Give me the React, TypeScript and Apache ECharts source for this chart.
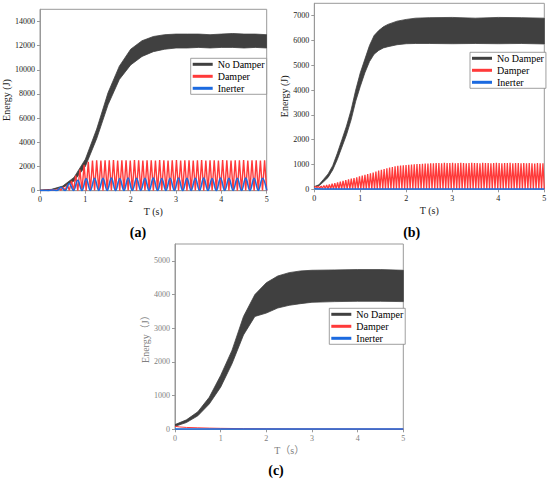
import React, { useEffect, useRef } from "react";
import * as echarts from "echarts";

// ---------- (a) ----------
const A_TIMES = [0, 0.25, 0.5, 0.75, 1.0, 1.25, 1.5, 1.75, 2.0, 2.25, 2.5, 2.75, 3.0, 3.25, 3.5, 3.75, 4.0, 4.25, 4.5, 4.75, 5.0];
const A_NODAMP_UPPER = [50, 110, 380, 1100, 2600, 5100, 8100, 10300, 11700, 12400, 12750, 12900, 12950, 12950, 12950, 12900, 12950, 13000, 12950, 12950, 12900];
const A_NODAMP_LOWER = [20, 70, 250, 800, 2000, 4300, 7100, 9200, 10400, 11100, 11500, 11700, 11800, 11800, 11850, 11800, 11850, 11850, 11800, 11850, 11800];

const A_DAMP_PERIOD = 5 / 54;
const A_DAMP_PEAKS = [
  30, 40, 55, 90, 170, 300, 500, 800, 1250, 1750, 2150, 2400, 2490, 2510,
  2500, 2520, 2510, 2530, 2500, 2510, 2520, 2500, 2530, 2510,
  2490, 2520, 2510, 2500, 2530, 2520, 2500, 2510, 2530, 2500,
  2520, 2510, 2490, 2520, 2530, 2500, 2510, 2520, 2500, 2530,
  2510, 2500, 2520, 2510, 2530, 2500, 2520, 2510, 2500, 2520,
];
const A_DAMP_TROUGHS = [
  20, 25, 30, 35, 40, 40, 30, 20, 15, 10,
  10, 8, 10, 12, 10, 8, 10, 12, 10, 8,
  10, 12, 10, 8, 10, 12, 10, 8, 10, 12,
  10, 8, 10, 12, 10, 8, 10, 12, 10, 8,
  10, 12, 10, 8, 10, 12, 10, 8, 10, 12,
  10, 8, 10, 12, 10,
];

const A_INERT_PERIOD = 5 / 27;
const A_INERT_PEAKS = [
  20, 60, 280, 600, 870, 1000, 1030,
  1020, 1040, 1010, 1050, 1030, 1020, 1040, 1010, 1030, 1050,
  1020, 1030, 1040, 1010, 1050, 1020, 1030, 1040, 1020, 1030,
];
const A_INERT_TROUGHS = [
  15, 10, 15, 20, 15, 10, 15, 20, 15, 10, 15, 20, 15, 10,
  15, 20, 15, 10, 15, 20, 15, 10, 15, 20, 15, 10, 15, 20,
];

// ---------- (b) ----------
const B_TIMES = [0, 0.1, 0.2, 0.3, 0.4, 0.5, 0.6, 0.7, 0.8, 0.9, 1.0, 1.1, 1.2, 1.3, 1.4, 1.5, 1.6, 1.8, 2.0, 2.2, 2.5, 3.0, 3.5, 4.0, 4.5, 5.0];
const B_NODAMP_UPPER = [110, 180, 400, 620, 950, 1450, 2000, 2550, 3200, 4000, 4700, 5250, 5800, 6200, 6400, 6550, 6650, 6780, 6850, 6900, 6920, 6930, 6900, 6930, 6920, 6900];
const B_NODAMP_LOWER = [90, 140, 300, 480, 780, 1200, 1700, 2200, 2800, 3550, 4150, 4700, 5150, 5450, 5600, 5700, 5750, 5830, 5870, 5880, 5880, 5870, 5880, 5870, 5880, 5860];

const B_DAMP_PERIOD = 5 / 84;
const B_DAMP_PEAKS = [
  105, 115, 130, 150, 170, 195, 225, 250, 280, 310,
  345, 375, 405, 430, 455, 480, 525, 550, 580, 615,
  645, 680, 720, 760, 790, 820, 850, 875, 900, 925,
  945, 960, 970, 980, 990, 1000, 1010, 1015, 1020, 1030,
  1035, 1040, 1045, 1050,
  1055, 1060, 1050, 1065, 1055, 1060, 1070, 1050, 1060, 1065,
  1055, 1050, 1060, 1070, 1055, 1060, 1050, 1065, 1060, 1055,
  1050, 1060, 1065, 1055, 1050, 1060, 1055, 1065, 1050, 1060,
  1055, 1050, 1060, 1045, 1055, 1050, 1040, 1055, 1045, 1050,
];
const B_DAMP_TROUGHS = [
  95, 70, 50, 40, 30, 25, 20,
  15, 12, 15, 18, 15, 12, 15, 18, 15, 12,
  15, 18, 15, 12, 15, 18, 15, 12, 15, 18,
  15, 12, 15, 18, 15, 12, 15, 18, 15, 12,
  15, 18, 15, 12, 15, 18, 15, 12, 15, 18,
  15, 12, 15, 18, 15, 12, 15, 18, 15, 12,
  15, 18, 15, 12, 15, 18, 15, 12, 15, 18,
  15, 12, 15, 18, 15, 12, 15, 18, 15, 12,
  15, 18, 15, 12, 15, 18, 15, 12,
];
const B_INERT_TIMES = [0, 0.2, 0.5, 1, 2, 3, 4, 5];
const B_INERT_VALUES = [20, 15, 12, 10, 10, 10, 10, 10];

// ---------- (c) ----------
const C_TIMES = [0, 0.25, 0.5, 0.75, 1.0, 1.25, 1.5, 1.75, 2.0, 2.25, 2.5, 2.75, 3.0, 3.5, 4.0, 4.5, 5.0];
const C_NODAMP_UPPER = [140, 280, 520, 950, 1600, 2350, 3350, 4000, 4350, 4550, 4650, 4700, 4720, 4730, 4740, 4740, 4720];
const C_NODAMP_LOWER = [90, 200, 400, 750, 1250, 1950, 2800, 3350, 3450, 3600, 3680, 3730, 3770, 3790, 3800, 3800, 3790];
const C_DAMP_TIMES = [0, 0.1, 0.25, 0.5, 0.75, 1, 1.5, 2, 2.5, 3, 4, 5];
const C_DAMP_VALUES = [90, 70, 55, 45, 35, 28, 20, 15, 12, 10, 8, 6];
const C_INERT_TIMES = [0, 1, 2, 3, 4, 5];
const C_INERT_VALUES = [10, 8, 8, 8, 8, 8];

const LEGEND_NAMES = ["No Damper", "Damper", "Inerter"];
const X_TICKS = { min: 0, max: 5, interval: 1 };
const Y_AXES = [
  { max: 15000, interval: 2000 },
  { max: 7500, interval: 1000 },
  { max: 5500, interval: 1000 },
];

const COL_BLACK = "#404040";
const COL_RED = "#ff3a3a";
const COL_BLUE = "#1b6ae0";
const SERIF = "'Liberation Serif', serif";
const CJK = "'Liberation Serif', 'Noto Sans CJK SC', serif";

function zigzag(period: number, troughs: number[], peaks: number[]) {
  const pts: number[][] = [];
  for (let k = 0; k < troughs.length; k++) {
    pts.push([+(k * period).toFixed(4), troughs[k]]);
    if (k < peaks.length) pts.push([+((k + 0.5) * period).toFixed(4), peaks[k]]);
  }
  return pts;
}

function pairs(times: number[], vals: number[]) {
  return times.map((t, i) => [t, vals[i]]);
}

// Envelope band drawn as one polygon through the axis scales (api.coord)
function band(idx: number, times: number[], lower: number[], upper: number[]) {
  return {
    type: "custom",
    name: "No Damper",
    coordinateSystem: "cartesian2d",
    xAxisIndex: idx,
    yAxisIndex: idx,
    data: times.map((t, i) => [t, lower[i], upper[i]]),
    encode: { x: 0, y: [1, 2] },
    color: COL_BLACK,
    itemStyle: { color: COL_BLACK },
    silent: true,
    clip: true,
    z: 1,
    renderItem: (params: any, api: any) => {
      if (params.dataIndex !== 0) return null;
      const pts: number[][] = [];
      for (let i = 0; i < times.length; i++) pts.push(api.coord([times[i], upper[i]]));
      for (let i = times.length - 1; i >= 0; i--) pts.push(api.coord([times[i], lower[i]]));
      return {
        type: "polygon",
        shape: { points: pts },
        style: { fill: COL_BLACK, stroke: COL_BLACK, lineWidth: 0.8 },
      };
    },
  };
}

function lineS(idx: number, name: string, data: number[][], color: string, width: number, smooth: boolean | number = false) {
  return {
    type: "line",
    name,
    xAxisIndex: idx,
    yAxisIndex: idx,
    data,
    symbol: "none",
    smooth,
    smoothMonotone: "x",
    color,
    itemStyle: { color },
    lineStyle: { width, color },
    silent: true,
    z: 2,
  };
}

const plain = (v: number) => String(v);

function xAxis(idx: number, name: string, gray: boolean) {
  const c = gray ? "#808080" : "#222";
  return {
    type: "value",
    gridIndex: idx,
    ...X_TICKS,
    name,
    nameLocation: "middle",
    nameGap: 16,
    nameTextStyle: { fontSize: 10, fontFamily: gray ? CJK : SERIF, color: c },
    axisLine: { show: true, lineStyle: { color: "#999", width: 1 } },
    axisTick: { show: true, inside: false, length: 3, lineStyle: { color: "#999" } },
    axisLabel: { fontSize: 8, margin: 5, color: c, fontFamily: SERIF, formatter: plain },
    splitLine: { show: false },
  };
}

function yAxis(idx: number, name: string, gap: number, gray: boolean) {
  const c = gray ? "#808080" : "#222";
  return {
    type: "value",
    gridIndex: idx,
    min: 0,
    max: Y_AXES[idx].max,
    interval: Y_AXES[idx].interval,
    name,
    nameLocation: "middle",
    nameGap: gap,
    nameTextStyle: { fontSize: 10, fontFamily: gray ? CJK : SERIF, color: c },
    axisLine: { show: true, lineStyle: { color: "#999", width: 1 } },
    axisTick: { show: true, inside: false, length: 3, lineStyle: { color: "#999" } },
    axisLabel: { fontSize: 8, margin: 5, color: c, fontFamily: SERIF, showMaxLabel: false, formatter: plain },
    splitLine: { show: false },
  };
}

function legend(left: number, top: number) {
  return {
    left,
    top,
    orient: "vertical",
    data: LEGEND_NAMES,
    icon: "rect",
    itemWidth: 20,
    itemHeight: 3,
    itemGap: 2,
    padding: [1, 2, 1, 2],
    backgroundColor: "#fff",
    borderColor: "#888",
    borderWidth: 0.8,
    borderRadius: 0,
    selectedMode: false,
    textStyle: { fontSize: 10, fontFamily: SERIF, color: "#000" },
  };
}

export default function App() {
  const ref = useRef<HTMLDivElement>(null);
  useEffect(() => {
    if (!ref.current) return;
    const chart = echarts.init(ref.current, undefined, { renderer: "svg" });
    const gridStyle = { show: true, borderColor: "#999", borderWidth: 1, backgroundColor: "transparent", containLabel: false };
    const cap = (text: string, x: number, y: number) => ({
      type: "text",
      x,
      y,
      style: { text, fontSize: 14, fontWeight: "bold", fontFamily: SERIF, fill: "#000", align: "center", verticalAlign: "middle" },
    });
    chart.setOption({
      animation: false,
      textStyle: { fontFamily: SERIF },
      grid: [
        { ...gridStyle, left: 40, top: 9.3, width: 226.7, height: 181.4 },
        { ...gridStyle, left: 314.3, top: 3.3, width: 230, height: 186 },
        { ...gridStyle, left: 175, top: 244, width: 228.3, height: 185.3 },
      ],
      xAxis: [xAxis(0, "T (s)", false), xAxis(1, "T (s)", false), xAxis(2, "T（s）", true)],
      yAxis: [
        yAxis(0, "Energy (J)", 26.5, false),
        yAxis(1, "Energy (J)", 24, false),
        yAxis(2, "Energy（J）", 24, true),
      ],
      legend: [legend(190.7, 58.3), legend(470, 52.3), legend(329.3, 308.3)],
      series: [
        band(0, A_TIMES, A_NODAMP_LOWER, A_NODAMP_UPPER),
        lineS(0, "Damper", zigzag(A_DAMP_PERIOD, A_DAMP_TROUGHS, A_DAMP_PEAKS), COL_RED, 1.4),
        lineS(0, "Inerter", zigzag(A_INERT_PERIOD, A_INERT_TROUGHS, A_INERT_PEAKS), COL_BLUE, 1.6, 0.4),
        band(1, B_TIMES, B_NODAMP_LOWER, B_NODAMP_UPPER),
        lineS(1, "Damper", zigzag(B_DAMP_PERIOD, B_DAMP_TROUGHS, B_DAMP_PEAKS), COL_RED, 1.3),
        lineS(1, "Inerter", pairs(B_INERT_TIMES, B_INERT_VALUES), COL_BLUE, 1.6),
        band(2, C_TIMES, C_NODAMP_LOWER, C_NODAMP_UPPER),
        lineS(2, "Damper", pairs(C_DAMP_TIMES, C_DAMP_VALUES), COL_RED, 1),
        lineS(2, "Inerter", pairs(C_INERT_TIMES, C_INERT_VALUES), COL_BLUE, 1.6),
      ],
      graphic: [cap("(a)", 138, 232), cap("(b)", 411.7, 232), cap("(c)", 276, 470)],
    });
    return () => chart.dispose();
  }, []);
  return <div ref={ref} style={{ position: "absolute", left: 0, top: 0, width: 550, height: 483 }} />;
}
